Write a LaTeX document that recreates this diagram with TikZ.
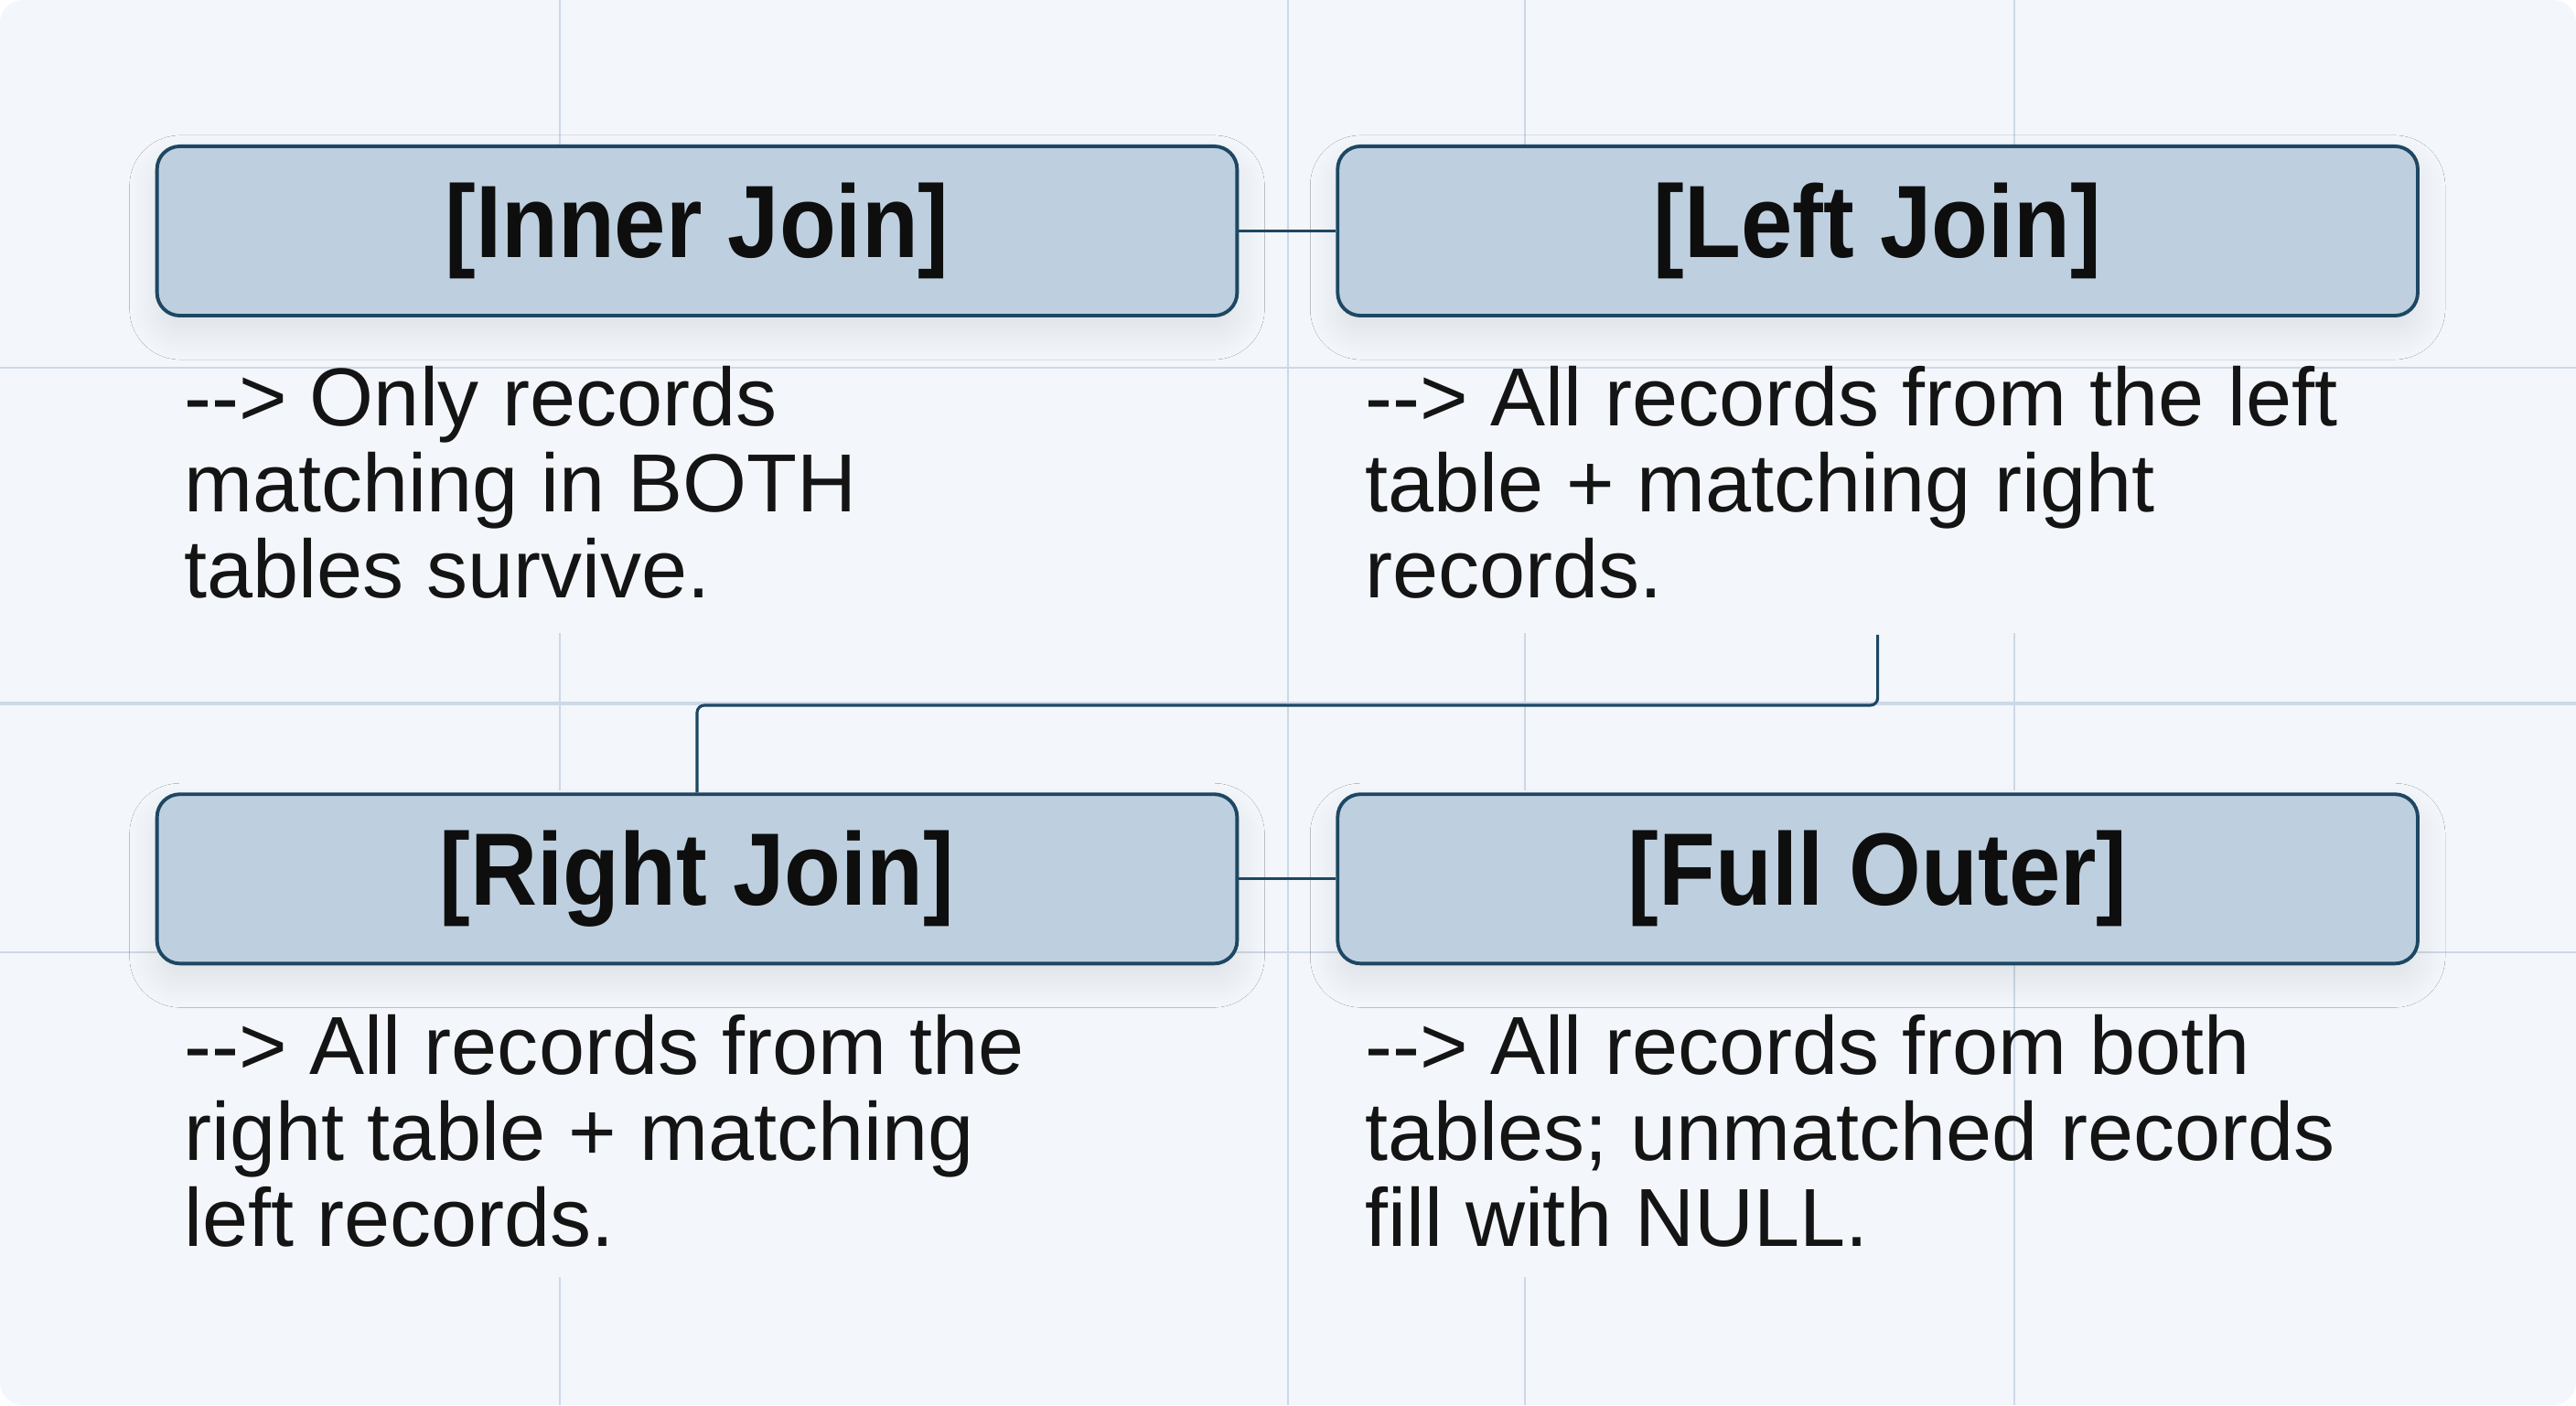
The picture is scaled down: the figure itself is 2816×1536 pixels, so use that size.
\documentclass[tikz,border=0pt]{standalone}
\usepackage{fontspec}
\setmainfont{Liberation Sans}
\newfontfamily\titlefont[FakeStretch=0.9]{Liberation Sans}
\usetikzlibrary{positioning, calc, shadows.blur}

\definecolor{pagebg}{HTML}{F3F6FA}
\definecolor{gridline}{HTML}{CDD8E7}
\definecolor{boxfill}{HTML}{BED0DF}
\definecolor{boxline}{HTML}{1D4763}
\definecolor{titleink}{HTML}{0E0E0E}
\definecolor{descink}{HTML}{141414}

\begin{document}
\begin{tikzpicture}[x=0.01cm, y=0.01cm,
    joinbox/.style={draw=boxline, line width=1.1pt, fill=boxfill, rounded corners=0.25cm,
        minimum width=11.8cm, minimum height=1.85cm, inner sep=0pt, text=titleink,
        font=\titlefont\bfseries\fontsize{32}{38}\selectfont,
        blur shadow={shadow xshift=0pt, shadow yshift=-0.18cm, shadow blur radius=0.3cm,
            shadow blur steps=30, shadow opacity=9}},
    joindesc/.style={inner sep=0pt, align=left, text=descink,
        font=\fontsize{25.6}{26.7}\selectfont},
    link/.style={draw=boxline, line width=0.9pt, rounded corners=0.08cm},
    gridln/.style={draw=gridline, line width=0.6pt}]

    % page with rounded corners
    \fill[white] (0,0) rectangle (2816,1536);
    \fill[pagebg, rounded corners=0.25cm] (0,0) rectangle (2816,1536);
    \useasboundingbox (0,0) rectangle (2816,1536);

    % faint grid behind everything
    \draw[gridln] (1408,0) -- (1408,1536);
    \foreach \gx in {612,1667,2202} {
        \draw[gridln] (\gx,1376) -- (\gx,1536);
        \draw[gridln] (\gx,672) -- (\gx,844);
    }
    \foreach \gx in {612,1667} \draw[gridln] (\gx,0) -- (\gx,140);
    \draw[gridln] (2202,0) -- (2202,487);
    \draw[gridln] (0,1134) -- (2816,1134);
    \draw[gridln] (0,495) -- (2816,495);
    \draw[gridln, line width=1.2pt] (0,767) -- (2816,767);

    % the four join boxes
    \node[joinbox] (innerjoin) at (762,1283.5) {[Inner Join]};
    \node[joinbox, right=1.06cm of innerjoin] (leftjoin) {[Left Join]};
    \node[joinbox, below=5.19cm of innerjoin] (rightjoin) {[Right Join]};
    \node[joinbox, right=1.06cm of rightjoin] (fullouter) {[Full Outer]};

    % descriptions under each box
    \node[joindesc, below right=0.53cm and 0.31cm of innerjoin.south west] (innerdesc)
        {-{}-> Only records\\matching in BOTH\\tables survive.};
    \node[joindesc, below right=0.53cm and 0.31cm of leftjoin.south west] (leftdesc)
        {-{}-> All records from the left\\table + matching right\\records.};
    \node[joindesc, below right=0.53cm and 0.31cm of rightjoin.south west] (rightdesc)
        {-{}-> All records from the\\right table + matching\\left records.};
    \node[joindesc, below right=0.53cm and 0.31cm of fullouter.south west] (outerdesc)
        {-{}-> All records from both\\tables; unmatched records\\fill with NULL.};

    % connectors
    \coordinate (ljtail) at ($(leftjoin.south)+(0,-347)$);
    \coordinate (ljbend) at ($(ljtail)+(0,-77)$);
    \draw[link] (innerjoin.east) -- (leftjoin.west);
    \draw[link] (rightjoin.east) -- (fullouter.west);
    \draw[link] (ljtail) -- (ljbend) -| (rightjoin.north);
\end{tikzpicture}
\end{document}
